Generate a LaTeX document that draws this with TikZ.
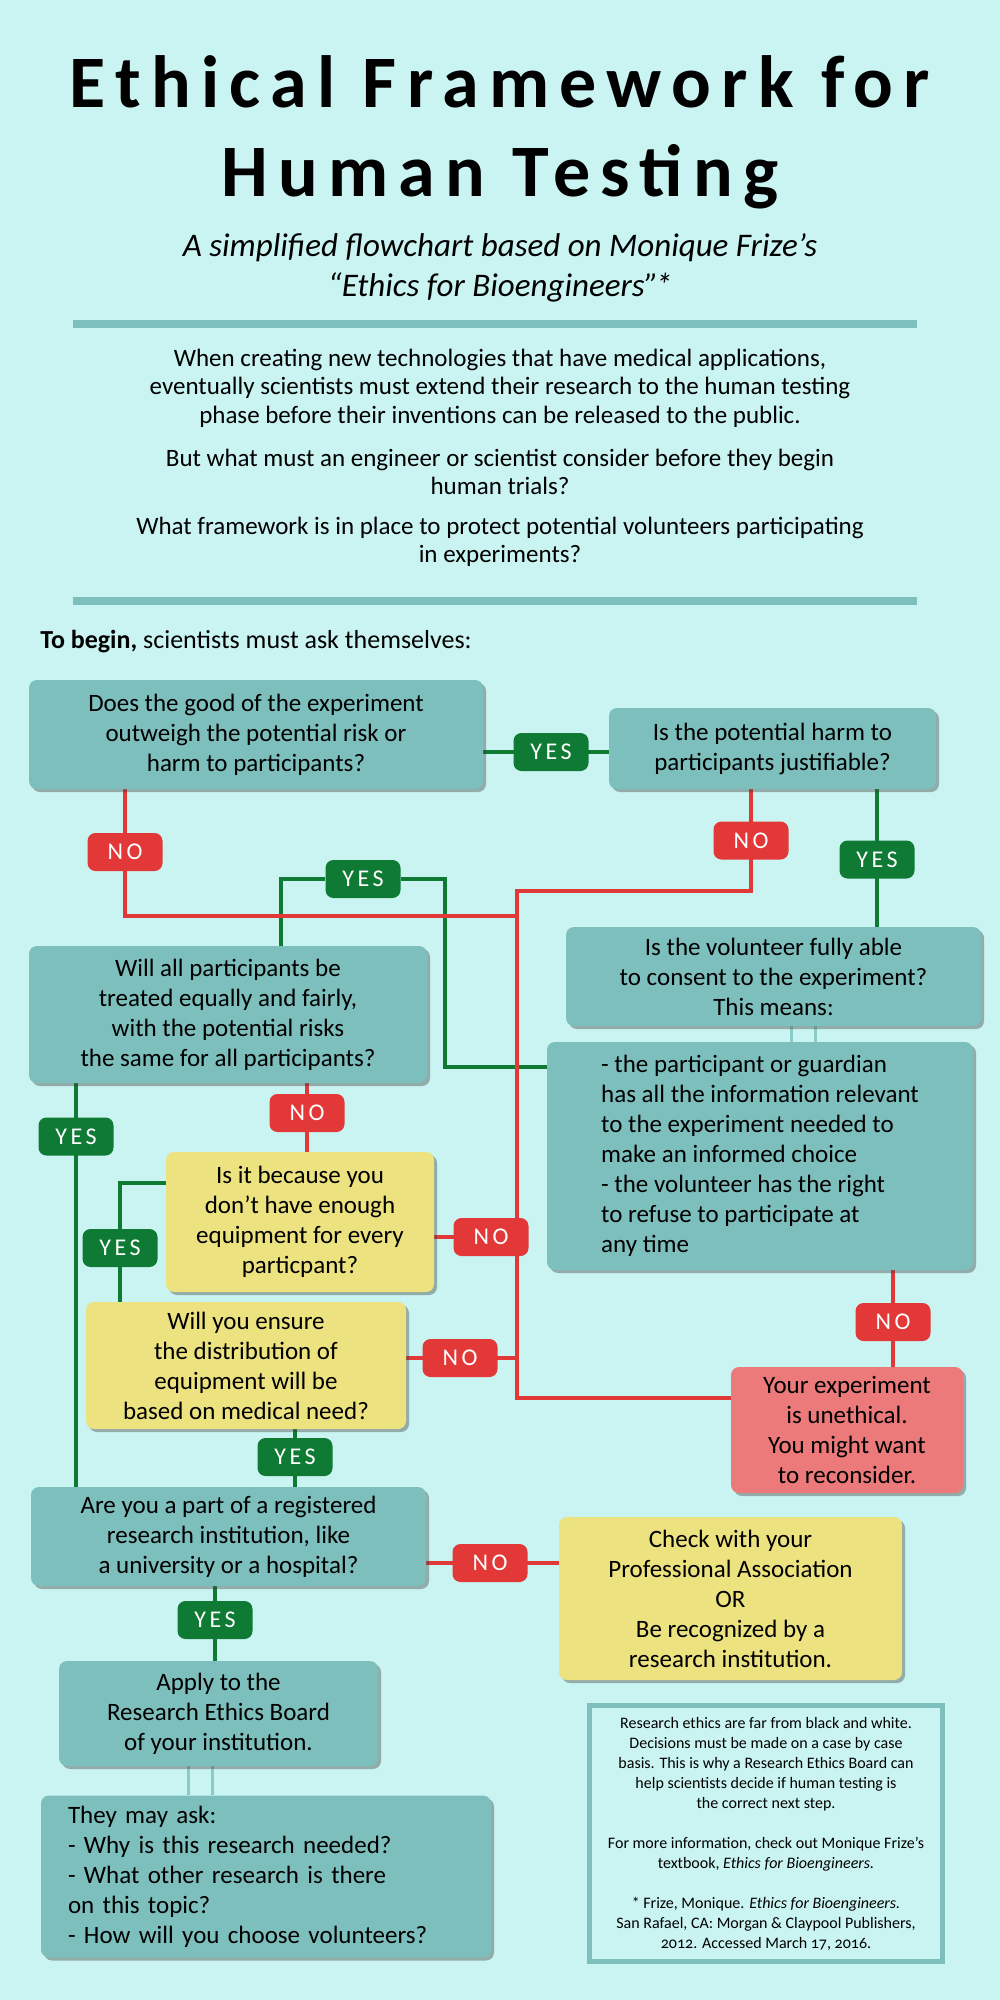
\documentclass[tikz,border=0pt]{standalone}
\usepackage{fontspec}
\setmainfont{Carlito}
\newfontfamily\titlefont[LetterSpace=14]{Carlito}
\newfontfamily\pillfont[LetterSpace=15]{Carlito}
\usetikzlibrary{shadows}
\pgfdeclarelayer{background}
\pgfsetlayers{background,main}

\definecolor{bgcyan}{RGB}{202,244,242}
\definecolor{boxteal}{RGB}{125,191,189}
\definecolor{twinteal}{RGB}{140,202,200}
\definecolor{yesgreen}{RGB}{14,122,52}
\definecolor{nored}{RGB}{226,56,56}
\definecolor{askyellow}{RGB}{236,226,128}
\definecolor{stoppink}{RGB}{236,122,122}

\tikzset{
  qbox/.style={rounded corners=4pt, fill=boxteal, align=center, inner sep=0pt,
    font=\fontsize{12.5}{15}\selectfont,
    drop shadow={shadow xshift=1.5pt, shadow yshift=-1.5pt, opacity=0.4, fill=black!75}},
  ybox/.style={fill=askyellow},
  pbox/.style={fill=stoppink},
  pill/.style={rounded corners=4pt, minimum width=37.5pt, minimum height=19pt, inner sep=0pt,
    text=white, font=\pillfont\fontsize{12}{12}\selectfont},
  yespill/.style={pill, fill=yesgreen},
  nopill/.style={pill, fill=nored},
  yesline/.style={draw=yesgreen, line width=2pt},
  noline/.style={draw=nored, line width=2pt},
  twin/.style={draw=twinteal, line width=1.5pt},
  rulebar/.style={draw=boxteal, line width=4pt}
}

\begin{document}
\begin{tikzpicture}[x=0.5pt,y=0.5pt,yscale=-1,xscale=1]
\begin{pgfonlayer}{background}
\fill[bgcyan] (0,0) rectangle (1000,2000);
\end{pgfonlayer}
\useasboundingbox (0,0) rectangle (1000,2000);

% Title
\node[anchor=base, font=\titlefont\bfseries\fontsize{37}{37}\selectfont] (title1) at (500,108) {Ethical Framework for};
\node[anchor=base, font=\titlefont\bfseries\fontsize{37}{37}\selectfont] (title2) at (500,197) {Human Testing};
\node[anchor=base, font=\itshape\fontsize{16.5}{20}\selectfont] (sub1) at (500,257) {A simplified flowchart based on Monique Frize’s};
\node[anchor=base, font=\itshape\fontsize{16.5}{20}\selectfont] (sub2) at (500,297) {“Ethics for Bioengineers”\kern-1.5pt*};
\draw[rulebar] (73,324) -- (917,324);

% Intro
\node[align=center, font=\fontsize{12.5}{14.25}\selectfont] (intro1) at (500,388) {When creating new technologies that have medical applications,\\eventually scientists must extend their research to the human testing\\phase before their inventions can be released to the public.};
\node[align=center, font=\fontsize{12.5}{14.25}\selectfont] (intro2) at (500,472) {But what must an engineer or scientist consider before they begin\\human trials?};
\node[align=center, font=\fontsize{12.5}{14.25}\selectfont] (intro3) at (500,542) {What framework is in place to protect potential volunteers participating\\in experiments?};
\draw[rulebar] (73,601) -- (917,601);
\node[anchor=base west, inner sep=0pt, font=\fontsize{13}{14}\selectfont] (begin) at (40,648) {\textbf{To begin,} scientists must ask themselves:};

% Question boxes
\node[qbox, minimum width=227pt, minimum height=54.5pt] (good) at (256,734.5) {Does the good of the experiment\\outweigh the potential risk or\\harm to participants?};
\node[qbox, minimum width=163.5pt, minimum height=40.5pt] (harm) at (772.5,748.5) {Is the potential harm to\\participants justifiable?};
\node[qbox, minimum width=199pt, minimum height=68.5pt] (equal) at (228,1014.5) {Will all participants be\\treated equally and fairly,\\with the potential risks\\the same for all participants?};
\node[qbox, minimum width=207.5pt, minimum height=49.5pt] (consent) at (773.5,976.5) {Is the volunteer fully able\\to consent to the experiment?\\This means:};
\node[qbox, align=left, minimum width=213pt, minimum height=114pt] (means) at (760,1156) {- the participant or guardian\\has all the information relevant\\to the experiment needed to\\make an informed choice\\- the volunteer has the right\\to refuse to participate at\\any time};
\node[qbox, ybox, minimum width=134pt, minimum height=70pt] (equip) at (300,1222) {Is it because you\\don’t have enough\\equipment for every\\particpant?};
\node[qbox, ybox, minimum width=160pt, minimum height=63.5pt] (distrib) at (246,1365.5) {Will you ensure\\the distribution of\\equipment will be\\based on medical need?};
\node[qbox, pbox, minimum width=116pt, minimum height=63pt] (unethical) at (847,1430) {Your experiment\\is unethical.\\You might want\\to reconsider.};
\node[qbox, minimum width=197.5pt, minimum height=49.5pt] (inst) at (228.5,1536.5) {Are you a part of a registered\\research institution, like\\a university or a hospital?};
\node[qbox, ybox, minimum width=171.5pt, minimum height=81.5pt] (assoc) at (730.5,1598.5) {Check with your\\Professional Association\\OR\\Be recognized by a\\research institution.};
\node[qbox, minimum width=159.5pt, minimum height=52.5pt] (apply) at (218.5,1713.5) {Apply to the\\Research Ethics Board\\of your institution.};
\node[qbox, align=left, text width=198pt, inner xsep=13.5pt, minimum height=81pt] (ask) at (266,1876.5) {They may ask:\\- Why is this research needed?\\- What other research is there\\on this topic?\\- How will you choose volunteers?};

% Note
\node[draw=boxteal, line width=2.5pt, align=center, inner sep=0pt, minimum width=176.5pt, minimum height=128pt,
  font=\fontsize{8}{10}\selectfont\addfontfeatures{Numbers=OldStyle}] (note) at (766,1833.5)
  {Research ethics are far from black and white.\\Decisions must be made on a case by case\\basis. This is why a Research Ethics Board can\\help scientists decide if human testing is\\the correct next step.\\[10pt]For more information, check out Monique Frize’s\\textbook, \textit{Ethics for Bioengineers.}\\[10pt]* Frize, Monique. \textit{Ethics for Bioengineers.}\\San Rafael, CA: Morgan \& Claypool Publishers,\\2012. Accessed March 17, 2016.};

% Answers
\node[yespill] (yesAB) at (551,752) {YES};
\node[nopill] (noA) at (125,852) {NO};
\node[nopill] (noB) at (751,840.5) {NO};
\node[yespill] (yesB) at (877,859.5) {YES};
\node[yespill] (yesE) at (363,879) {YES};
\node[yespill] (yesC) at (76,1136.5) {YES};
\node[nopill] (noC) at (307,1113) {NO};
\node[yespill] (yesF) at (120,1248) {YES};
\node[nopill] (noF) at (491,1237) {NO};
\node[nopill] (noG) at (460,1358) {NO};
\node[yespill] (yesG) at (295,1457) {YES};
\node[nopill] (noE) at (893,1322) {NO};
\node[nopill] (noH) at (490,1563) {NO};
\node[yespill] (yesH) at (215,1620) {YES};

% bends
\coordinate (rv) at (517,891);
\coordinate (rl) at (517,916);
\coordinate (rb) at (517,1398);
\coordinate (gr) at (445,1067);
\coordinate (gl) at (281,946);
\coordinate (gf) at (120,1183);
\coordinate (twinA) at (791,0);
\coordinate (twinB) at (815,0);
\coordinate (twinC) at (188,0);
\coordinate (twinD) at (212,0);

\begin{pgfonlayer}{background}
% yes lines
\draw[yesline] (yesAB -| good.east) -- (yesAB -| harm.west);
\draw[yesline] (yesB |- harm.south) -- (yesB |- consent.north);
\draw[yesline] (gr -| means.west) -- (gr) |- (yesE) -| (gl);
\draw[yesline] (yesC |- equal.south) -- (yesC |- inst.north);
\draw[yesline] (gf -| equip.west) -- (gf) -- (gf |- distrib.north);
\draw[yesline] (yesG |- distrib.south) -- (yesG |- inst.north);
\draw[yesline] (yesH |- inst.south) -- (yesH |- apply.north);
% no lines
\draw[noline] (noA |- good.south) |- (rl);
\draw[noline] (noB |- harm.south) |- (rv) -- (rb) -- (rb -| unethical.west);
\draw[noline] (noC |- equal.south) -- (noC |- equip.north);
\draw[noline] (noF -| equip.east) -- (noF -| rv);
\draw[noline] (noG -| distrib.east) -- (noG -| rv);
\draw[noline] (noE |- means.south) -- (noE |- unethical.north);
\draw[noline] (noH -| inst.east) -- (noH -| assoc.west);
% twin lines
\foreach \t in {twinA,twinB} \draw[twin] (consent.south -| \t) -- (means.north -| \t);
\foreach \t in {twinC,twinD} \draw[twin] (apply.south -| \t) -- (ask.north -| \t);
\end{pgfonlayer}

\end{tikzpicture}
\end{document}
